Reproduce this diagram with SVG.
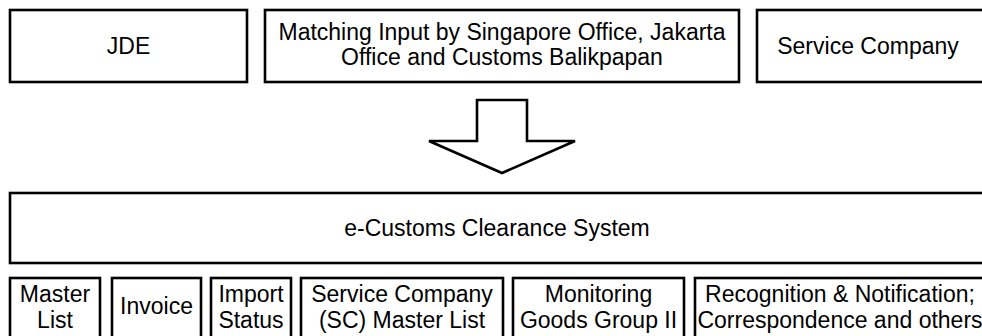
<svg xmlns="http://www.w3.org/2000/svg" width="982" height="336" viewBox="0 0 982 336">
  <style>
    .box { fill: #ffffff; stroke: #000000; stroke-width: 2.6; }
    .lbl { font-family: "Liberation Sans", Arial, sans-serif; font-size: 23px; fill: #000000; text-anchor: middle; }
  </style>
  <rect width="982" height="336" fill="#ffffff"/>

  <!-- Data sources -->
  <g id="jde">
    <rect class="box" x="10" y="10" width="237" height="72"/>
    <text class="lbl" x="128.5" y="54">JDE</text>
  </g>
  <g id="matching-input">
    <rect class="box" x="265" y="10" width="474" height="72"/>
    <text class="lbl" x="502" y="40">Matching Input by Singapore Office, Jakarta</text>
    <text class="lbl" x="502" y="65">Office and Customs Balikpapan</text>
  </g>
  <g id="service-company">
    <rect class="box" x="757" y="10" width="240" height="72"/>
    <text class="lbl" x="868" y="54">Service Company</text>
  </g>

  <!-- Flow arrow -->
  <g id="connectors">
    <polygon class="box" points="477,100 527,100 527,141 575,141 502,173 429,141 477,141"/>
  </g>

  <!-- Main system -->
  <g id="e-customs">
    <rect class="box" x="10" y="193" width="990" height="70"/>
    <text class="lbl" x="497" y="236">e-Customs Clearance System</text>
  </g>

  <!-- Modules -->
  <g id="master-list">
    <rect class="box" x="10" y="278" width="90" height="70"/>
    <text class="lbl" x="55" y="302">Master</text>
    <text class="lbl" x="55" y="328">List</text>
  </g>
  <g id="invoice">
    <rect class="box" x="112" y="278" width="89" height="70"/>
    <text class="lbl" x="156.5" y="314">Invoice</text>
  </g>
  <g id="import-status">
    <rect class="box" x="211" y="278" width="80" height="70"/>
    <text class="lbl" x="251" y="302">Import</text>
    <text class="lbl" x="251" y="328">Status</text>
  </g>
  <g id="sc-master-list">
    <rect class="box" x="301" y="278" width="202" height="70"/>
    <text class="lbl" x="402" y="302">Service Company</text>
    <text class="lbl" x="402" y="328">(SC) Master List</text>
  </g>
  <g id="monitoring">
    <rect class="box" x="513" y="278" width="171" height="70"/>
    <text class="lbl" x="598.5" y="302">Monitoring</text>
    <text class="lbl" x="598.5" y="328">Goods Group II</text>
  </g>
  <g id="recognition">
    <rect class="box" x="695" y="278" width="300" height="70"/>
    <text class="lbl" x="840" y="302">Recognition &amp; Notification;</text>
    <text class="lbl" x="840" y="328">Correspondence and others</text>
  </g>
</svg>
